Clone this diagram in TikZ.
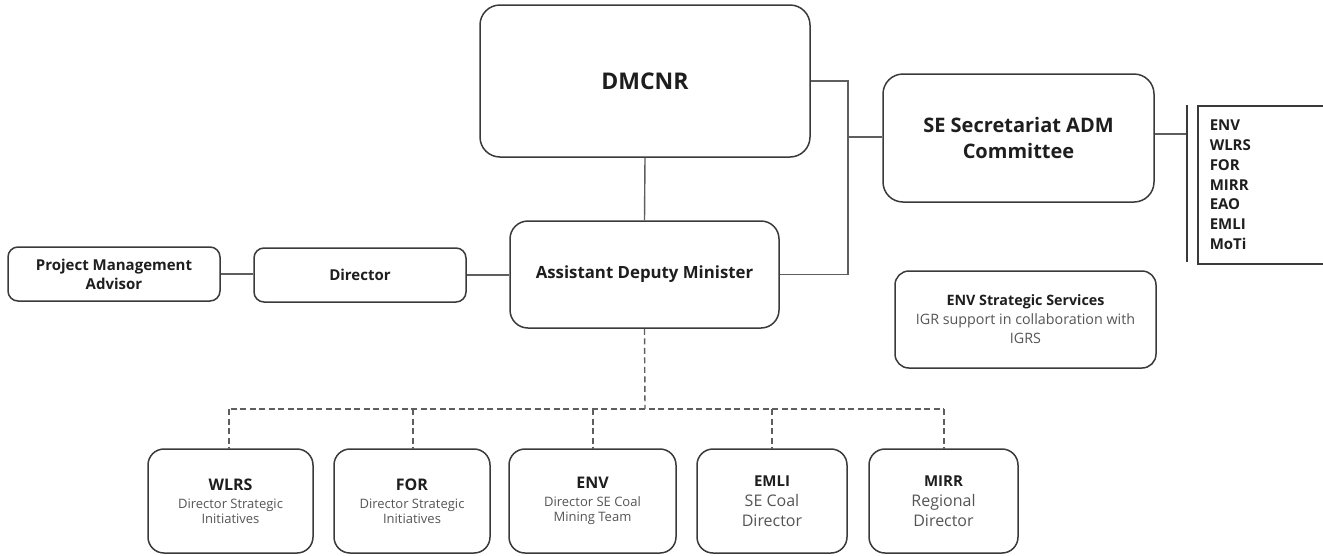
\documentclass[tikz,border=0pt]{standalone}
\usepackage{fontspec}
\setmainfont{Open Sans}
\begin{document}
\definecolor{boxline}{HTML}{3A3A3A}
\definecolor{linkline}{HTML}{5E5E5E}
\definecolor{subgray}{HTML}{555555}
\definecolor{ink}{HTML}{1E1E1E}
\begin{tikzpicture}[x=1pt,y=-1pt,
  box/.style={draw=boxline,line width=1.5pt,rounded corners=#1,align=center,inner sep=0pt,fill=white,text=ink},
  box/.default=12pt,
  link/.style={draw=linkline,line width=1.4pt},
  dlink/.style={draw=linkline,line width=1.4pt,dash pattern=on 6pt off 3.5pt},
  unit/.style={box=16pt,minimum height=104pt,font=\fontsize{13}{15}\selectfont},
  unitbig/.style={box=16pt,minimum height=104pt,font=\fontsize{16}{20}\selectfont},
]
\useasboundingbox (0,0) rectangle (1323,555);
\clip (0,0) rectangle (1323,555);

% top level
\node[box=20pt,minimum width=330pt,minimum height=152pt,font=\fontsize{23}{28}\selectfont\bfseries]
  (dm) at (645,81) {DMCNR};
\node[box=18pt,minimum width=269pt,minimum height=107pt,font=\fontsize{16.8}{20}\selectfont\bfseries]
  (adm) at (644.5,274.5) {Assistant Deputy Minister};

% left chain
\node[box=10pt,minimum width=212pt,minimum height=54pt,font=\fontsize{15}{19}\selectfont\bfseries]
  (pma) at (114,274) {Project Management\\Advisor};
\node[box=10pt,minimum width=212pt,minimum height=54pt,font=\fontsize{15}{19}\selectfont\bfseries]
  (dir) at (360,275) {Director};

% committee and members
\node[box=20pt,minimum width=271pt,minimum height=128pt,font=\fontsize{20}{26}\selectfont\bfseries]
  (se) at (1018.5,138) {SE Secretariat ADM\\Committee};
\node[draw=boxline,line width=1.5pt,anchor=north west,minimum width=140pt,minimum height=158pt,
  text width=116pt,inner xsep=12pt,inner ysep=0pt,align=left,text=ink,font=\fontsize{15}{19.8}\selectfont\bfseries]
  (members) at (1197,105) {ENV\\WLRS\\FOR\\MIRR\\EAO\\EMLI\\MoTi};
\coordinate (bartop) at (1187,105);
\coordinate (barbot) at (1187,262);

\node[box=14pt,minimum width=261pt,minimum height=97pt,font=\fontsize{14.3}{19}\selectfont]
  (ss) at (1025.5,319.5) {\textbf{ENV Strategic Services}\\{\color{subgray}IGR support in collaboration with}\\{\color{subgray}IGRS}};

% program units
\node[unit,minimum width=165pt] (wlrs) at (230.5,501)
  {{\fontsize{16}{15}\selectfont\bfseries WLRS}\\[3pt]{\color{subgray}Director Strategic}\\{\color{subgray}Initiatives}};
\node[unit,minimum width=156pt] (for) at (412,501)
  {{\fontsize{16}{15}\selectfont\bfseries FOR}\\[3pt]{\color{subgray}Director Strategic}\\{\color{subgray}Initiatives}};
\node[unit,minimum width=167pt] (env) at (592.5,501)
  {{\fontsize{16}{15}\selectfont\bfseries ENV}\\[3pt]{\color{subgray}Director SE Coal}\\{\color{subgray}Mining Team}};
\node[unitbig,minimum width=150pt] (emli) at (772,501)
  {{\fontsize{15}{20}\selectfont\bfseries EMLI}\\{\color{subgray}SE Coal}\\{\color{subgray}Director}};
\node[unitbig,minimum width=149pt] (mirr) at (943.5,501)
  {{\fontsize{15}{20}\selectfont\bfseries MIRR}\\{\color{subgray}Regional}\\{\color{subgray}Director}};

% solid reporting lines
\coordinate (rail) at (848,137);
\draw[link] (dm.south) -- (adm.north);
\draw[link] (dm.east) -- (dm.east -| rail) -- (adm.east -| rail) -- (adm.east);
\draw[link] (rail) -- (se.west |- rail);
\draw[link] (pma.east) -- (pma.east -| dir.west);
\draw[link] (dir.east) -- (dir.east -| adm.west);
\draw[link] ([yshift=4pt]se.east) -- ([yshift=4pt]se.east -| bartop);
\draw[draw=boxline,line width=2pt] (bartop) -- (barbot);

% dotted-line relationships to program units
\coordinate (hub) at (645,409);
\draw[dlink] (adm.south) -- (hub);
\draw[dlink] (wlrs.north |- hub) -- (hub -| mirr.north);
\foreach \u/\xx in {wlrs/229,for/413,env/593,emli/772,mirr/944}
  \draw[dlink] (\xx,409) -- (\xx,449);
\end{tikzpicture}
\end{document}
